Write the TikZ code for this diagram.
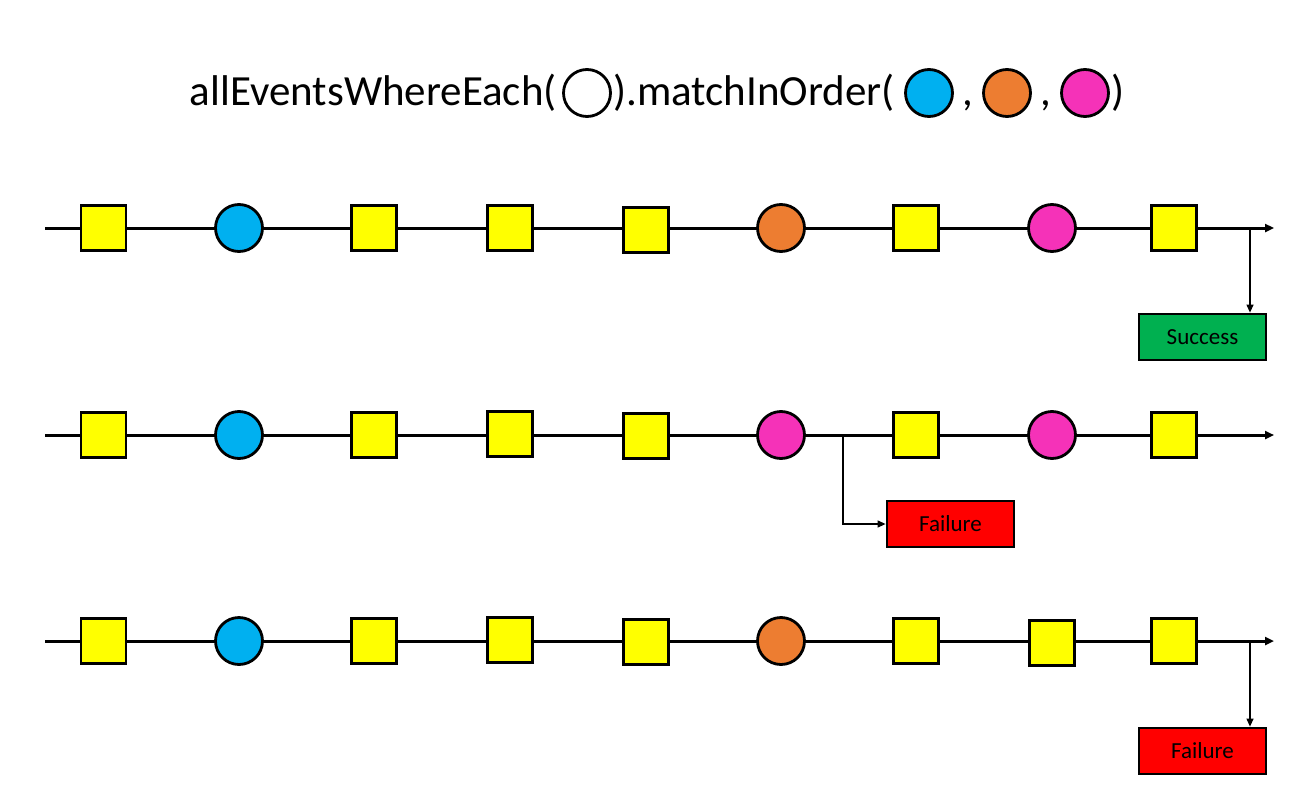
\documentclass[tikz,border=0pt]{standalone}
\usepackage{fontspec}
\setmainfont{Carlito}
\usetikzlibrary{arrows.meta,calc}
\definecolor{evyellow}{HTML}{FFFF00}
\definecolor{evcyan}{HTML}{00B0F0}
\definecolor{evorange}{HTML}{ED7D31}
\definecolor{evpink}{HTML}{F532B8}
\definecolor{evgreen}{HTML}{00B050}
\definecolor{evred}{HTML}{FF0000}
\tikzset{
  sq/.style={draw=black, fill=evyellow, line width=2.8pt, minimum size=45pt, inner sep=0pt},
  ev/.style={circle, draw=black, line width=2.8pt, minimum size=47pt, inner sep=0pt},
  timeline/.style={line width=3pt, -{Triangle[length=9pt,width=8pt]}},
  branch/.style={line width=1.2pt, -{Triangle[length=8pt,width=7pt]}},
  result/.style={draw=black, line width=2.8pt, minimum width=127pt, minimum height=46pt, inner sep=0pt, font=\fontsize{23}{27}\selectfont},
  title/.style={font=\fontsize{43}{50}\selectfont, inner sep=0pt}
}
\begin{document}
\begin{tikzpicture}[x=1pt,y=-1pt]
\useasboundingbox[fill=white] (0,0) rectangle (1315,787);
% title
\node[title, anchor=base east] (t1) at (557,105) {allEventsWhereEach(};
\node[ev, fill=white] (tw) at (587,93) {};
\node[title, anchor=base west] (t2) at (613,105) {).matchInOrder(};
\node[ev, fill=evcyan] (tc) at (929,93) {};
\node[title, anchor=base] (tk1) at (968,105) {,};
\node[ev, fill=evorange] (to) at (1007,93) {};
\node[title, anchor=base] (tk2) at (1046,105) {,};
\node[ev, fill=evpink] (tp) at (1085,93) {};
\node[title, anchor=base west] (t3) at (1111,105) {)};
% row 1
\coordinate (s1) at (45,228);
\coordinate (e1) at (1274,228);
\coordinate (b1) at (1250,228);
\draw[timeline] (s1) -- (e1);
\node[sq] (r1a) at (103.5,228) {};
\node[ev, fill=evcyan] (r1b) at (239,228) {};
\node[sq] (r1c) at (374,228) {};
\node[sq] (r1d) at (510,228) {};
\node[sq] (r1e) at (646,230) {};
\node[ev, fill=evorange] (r1f) at (781,228) {};
\node[sq] (r1g) at (916,228) {};
\node[ev, fill=evpink] (r1h) at (1052,228) {};
\node[sq] (r1i) at (1174,228) {};
\node[result, fill=evgreen] (succ) at (1202.5,337) {Success};
\draw[branch] (b1) -- (b1 |- succ.north);
% row 2
\coordinate (s2) at (45,435);
\coordinate (e2) at (1274,435);
\coordinate (b2) at (843,435);
\draw[timeline] (s2) -- (e2);
\node[sq] (r2a) at (103.5,435) {};
\node[ev, fill=evcyan] (r2b) at (239,435) {};
\node[sq] (r2c) at (374,435) {};
\node[sq] (r2d) at (510,434) {};
\node[sq] (r2e) at (646,436) {};
\node[ev, fill=evpink] (r2f) at (781,435) {};
\node[sq] (r2g) at (916,435) {};
\node[ev, fill=evpink] (r2h) at (1052,435) {};
\node[sq] (r2i) at (1174,435) {};
\node[result, fill=evred] (fail2) at (950.5,524) {Failure};
\draw[branch] (b2) |- (fail2.west);
% row 3
\coordinate (s3) at (45,641);
\coordinate (e3) at (1274,641);
\coordinate (b3) at (1250,641);
\draw[timeline] (s3) -- (e3);
\node[sq] (r3a) at (103.5,641) {};
\node[ev, fill=evcyan] (r3b) at (239,641) {};
\node[sq] (r3c) at (374,641) {};
\node[sq] (r3d) at (510,640) {};
\node[sq] (r3e) at (646,642) {};
\node[ev, fill=evorange] (r3f) at (781,641) {};
\node[sq] (r3g) at (916,641) {};
\node[sq] (r3h) at (1052,643) {};
\node[sq] (r3i) at (1174,641) {};
\node[result, fill=evred] (fail3) at (1202.5,751) {Failure};
\draw[branch] (b3) -- (b3 |- fail3.north);
\end{tikzpicture}
\end{document}
